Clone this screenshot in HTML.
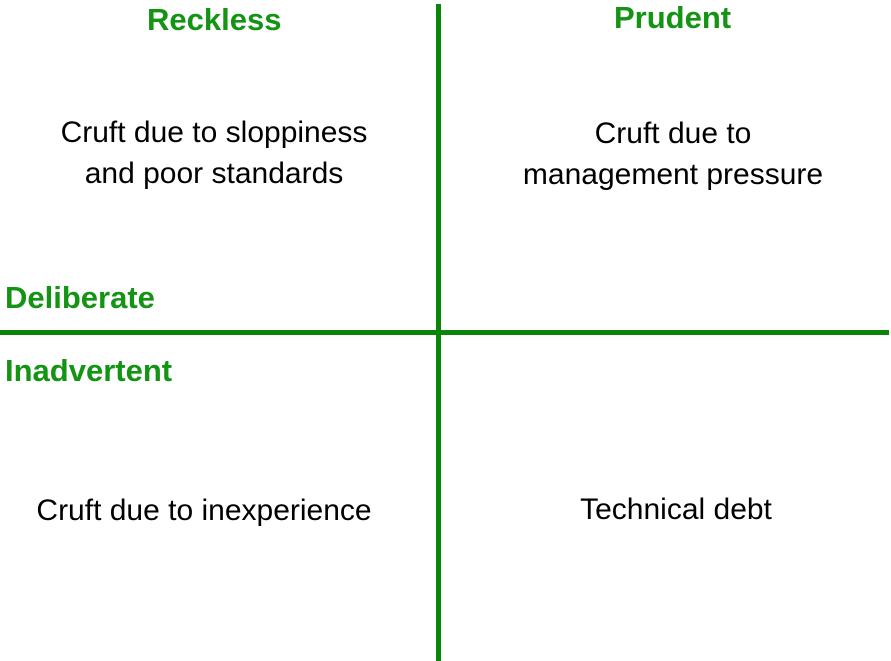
<!DOCTYPE html>
<html><head><style>
html,body{margin:0;padding:0;background:#fff;}
body{width:891px;height:661px;position:relative;overflow:hidden;font-family:"Liberation Sans",sans-serif;}
.g{position:absolute;color:#139413;font-size:31px;font-weight:bold;line-height:1;white-space:nowrap;}
.t{position:absolute;color:#000;font-size:30px;line-height:41px;text-align:center;white-space:nowrap;transform:translateX(-50%);}
.l{position:absolute;background:#0a850a;}
</style></head><body>
<div class="l" style="left:436px;top:4px;width:5px;height:657px;"></div>
<div class="l" style="left:0;top:330px;width:889px;height:5px;"></div>
<div class="g" style="left:147px;top:4px;">Reckless</div>
<div class="g" style="left:614px;top:2px;">Prudent</div>
<div class="g" style="left:5px;top:282px;">Deliberate</div>
<div class="g" style="left:5px;top:355px;">Inadvertent</div>
<div class="t" style="left:214px;top:112px;">Cruft due to sloppiness<br>and poor standards</div>
<div class="t" style="left:673px;top:113px;">Cruft due to<br>management pressure</div>
<div class="t" style="left:204px;top:490px;">Cruft due to inexperience</div>
<div class="t" style="left:676px;top:489px;">Technical debt</div>
</body></html>
